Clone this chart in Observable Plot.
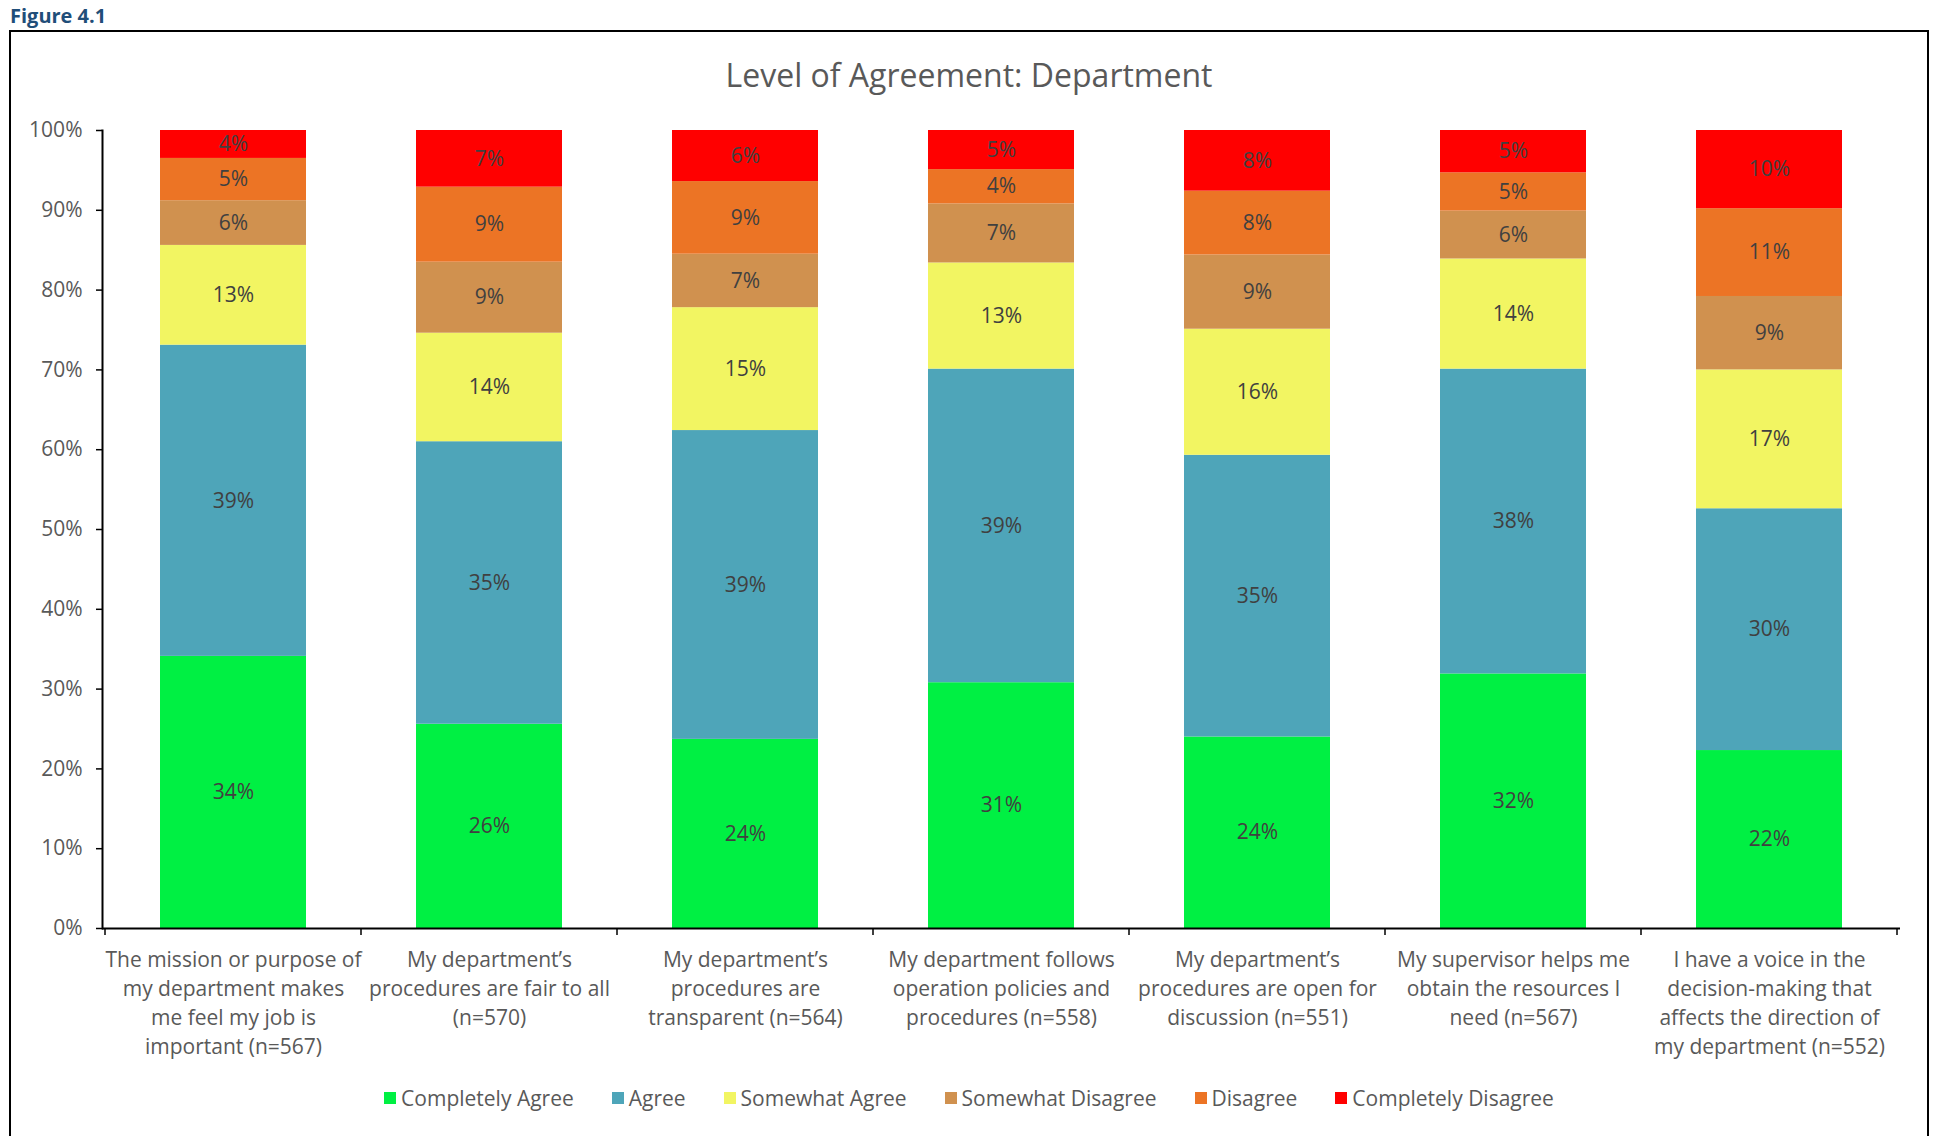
<!DOCTYPE html>
<html>
<head>
<meta charset="utf-8">
<script src="https://cdn.jsdelivr.net/npm/d3@7"></script>
<script src="https://cdn.jsdelivr.net/npm/@observablehq/plot@0.6"></script>
<style>
  html, body { margin: 0; padding: 0; background: #fff; overflow: hidden; }
  body { width: 1935px; height: 1136px; position: relative; font-family: "Open Sans", sans-serif; }
  #fig { position: absolute; left: 10px; top: 2px; font-weight: 700; font-size: 20px; color: #1F4E79; }
  #frame { position: absolute; left: 9px; top: 30px; width: 1916px; height: 1130px; border: 2px solid #000; }
  #title { position: absolute; left: 10px; width: 1918px; top: 52px; text-align: center; font-size: 32px; color: #595959; line-height: 46px; }
  #chart { position: absolute; left: 10px; top: 100px; }
  #legend { position: absolute; left: 10px; width: 1918px; top: 1083px; display: flex; justify-content: center; gap: 38px; font-size: 21px; color: #595959; line-height: 30px; }
  #legend .item { display: flex; align-items: center; }
  #legend .sw { width: 12px; height: 12px; margin-right: 5px; }
  #chart svg g[aria-label="y-axis tick label"] text,
  #chart svg g[aria-label="x-axis tick label"] text { fill: #595959; }
</style>
</head>
<body>
<div id="fig">Figure 4.1</div>
<div id="frame"></div>
<div id="title">Level of Agreement: Department</div>
<div id="chart"></div>
<div id="legend"></div>
<script>
const questions = [
  "The mission or purpose of\nmy department makes\nme feel my job is\nimportant (n=567)",
  "My department’s\nprocedures are fair to all\n(n=570)",
  "My department’s\nprocedures are\ntransparent (n=564)",
  "My department follows\noperation policies and\nprocedures (n=558)",
  "My department’s\nprocedures are open for\ndiscussion (n=551)",
  "My supervisor helps me\nobtain the resources I\nneed (n=567)",
  "I have a voice in the\ndecision-making that\naffects the direction of\nmy department (n=552)"
];
const categories = ["Completely Agree", "Agree", "Somewhat Agree", "Somewhat Disagree", "Disagree", "Completely Disagree"];
const colors = ["#00F043", "#4EA5B9", "#F2F562", "#D0914F", "#EC7425", "#FF0000"];

const completelyAgree    = [34.1, 25.6, 23.7, 30.8, 24.0, 31.9, 22.3];
const agree              = [39.0, 35.4, 38.7, 39.3, 35.3, 38.2, 30.3];
const somewhatAgree      = [12.5, 13.6, 15.4, 13.3, 15.8, 13.8, 17.4];
const somewhatDisagree   = [5.6, 8.9, 6.7, 7.4, 9.3, 6.0, 9.2];
const disagree           = [5.3, 9.4, 9.1, 4.3, 8.0, 4.8, 11.0];
const completelyDisagree = [3.5, 7.1, 6.4, 4.9, 7.6, 5.3, 9.8];

const yTicks = [0, 10, 20, 30, 40, 50, 60, 70, 80, 90, 100];

const series = [completelyAgree, agree, somewhatAgree, somewhatDisagree, disagree, completelyDisagree];
const data = [];
questions.forEach((q, i) => {
  categories.forEach((c, j) => data.push({q, cat: c, v: series[j][i]}));
});

const W = 1918, H = 970;
const chart = Plot.plot({
  width: W, height: H,
  marginLeft: 92, marginRight: 28, marginTop: 30, marginBottom: 142,
  style: {fontFamily: "'Open Sans', sans-serif", background: "transparent", overflow: "visible"},
  x: {domain: questions, paddingInner: 0.43, paddingOuter: 0.215, axis: null},
  y: {domain: [0, 100], axis: null},
  color: {domain: categories, range: colors},
  marks: [
    Plot.barY(data, {x: "q", y: "v", fill: "cat"}),
    Plot.text(data, Plot.stackY({x: "q", y: "v", z: "cat", text: d => Math.round(d.v) + "%", fill: "#404040", fontSize: 21})),
    Plot.axisY({ticks: yTicks, tickFormat: d => d + "%", tickSize: 6, tickPadding: 14, fontSize: 21, stroke: "#000", strokeWidth: 1.5, label: null}),
    Plot.axisX({tickSize: 0, tickPadding: 18, fontSize: 21, lineHeight: 1.38, label: null}),
    Plot.frame({anchor: "left", stroke: "#000", strokeWidth: 2}),
    Plot.ruleY([0], {stroke: "#000", strokeWidth: 2})
  ]
});
document.getElementById("chart").appendChild(chart);

// category boundary ticks on the x axis, derived from the band scale
const xs = chart.scale("x");
const ys = chart.scale("y");
const y0 = ys.apply(0);
const bounds = questions.map(q => xs.apply(q) + xs.bandwidth / 2 - xs.step / 2);
bounds.push(xs.apply(questions[questions.length - 1]) + xs.bandwidth / 2 + xs.step / 2);
d3.select(chart).append("g")
  .selectAll("line").data(bounds).join("line")
  .attr("x1", d => d).attr("x2", d => d)
  .attr("y1", y0).attr("y2", y0 + 7)
  .attr("stroke", "#000").attr("stroke-width", 1.5);

// legend
const legend = d3.select("#legend");
categories.forEach((c, i) => {
  const it = legend.append("div").attr("class", "item");
  it.append("div").attr("class", "sw").style("background", colors[i]);
  it.append("span").text(c);
});
</script>
</body>
</html>
